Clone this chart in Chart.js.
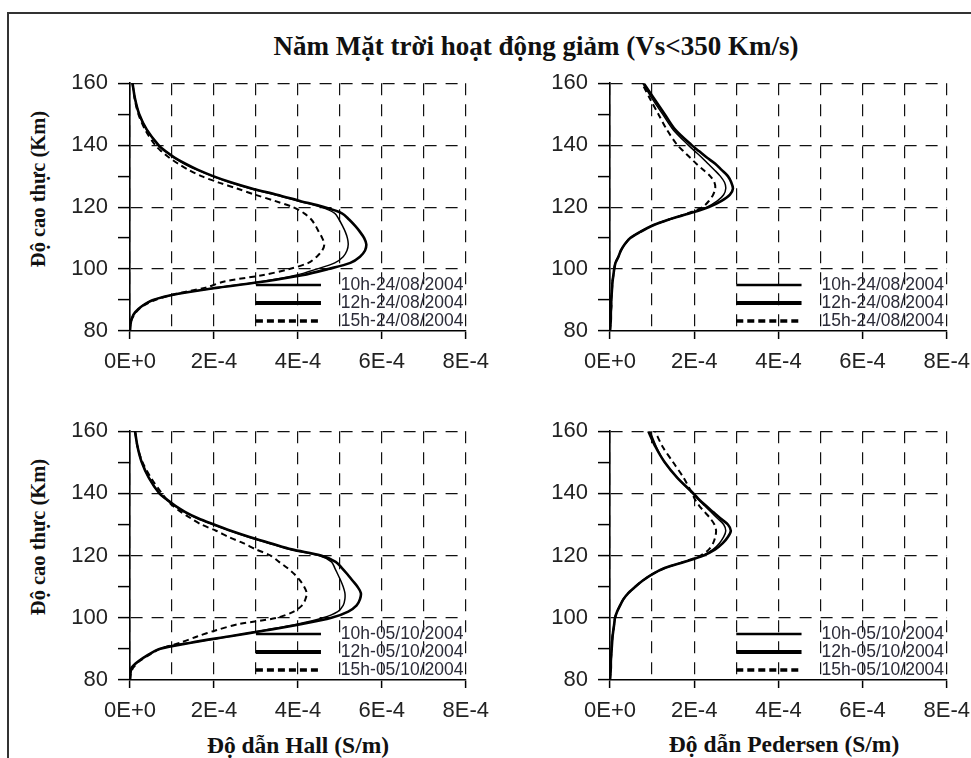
<!DOCTYPE html>
<html>
<head>
<meta charset="utf-8">
<script src="https://cdn.jsdelivr.net/npm/chart.js@4.4.1/dist/chart.umd.min.js"></script>
<style>
  body { margin: 0; background: #fff; }
  #page { position: relative; width: 971px; height: 758px; overflow: hidden; background: #fff; }
  #frame { position: absolute; left: 7px; top: 12px; width: 1000px; height: 800px;
           border-left: 2px solid #333; border-top: 2px solid #333; }
  canvas { position: absolute; }
  .serif { position: absolute; font-family: "Liberation Serif", "Times New Roman", serif;
           font-weight: bold; color: #111; white-space: nowrap; transform: translate(-50%, -50%); }
  #title { left: 536px; top: 46px; font-size: 28px; transform: translate(-50%, -50%) scaleX(0.965); }
  .ytitle { left: 38px; font-size: 20.5px; transform: translate(-50%, -50%) rotate(-90deg); }
  .xtitle { font-size: 23.5px; }
</style>
</head>
<body>
<div id="page">
  <div id="frame"></div>
  <div id="title" class="serif">Năm Mặt trời hoạt động giảm (Vs&lt;350 Km/s)</div>
  <div class="serif ytitle" style="top:189px">Độ cao thực (Km)</div>
  <div class="serif ytitle" style="top:537px">Độ cao thực (Km)</div>
  <div class="serif xtitle" style="left:298px; top:745px">Độ dẫn Hall (S/m)</div>
  <div class="serif xtitle" style="left:784px; top:744px">Độ dẫn Pedersen (S/m)</div>
  <canvas id="hallAug" width="489" height="330" style="left:10px; top:60px"></canvas>
  <canvas id="pedAug" width="490" height="330" style="left:490px; top:60px"></canvas>
  <canvas id="hallOct" width="489" height="330" style="left:10px; top:408px"></canvas>
  <canvas id="pedOct" width="490" height="330" style="left:490px; top:408px"></canvas>
</div>
<script>
// altitude (km) shared by every profile
const altitude = [80, 82, 84, 86, 88, 90, 92, 94, 96, 98, 100, 102, 104, 106, 108, 110, 112, 114, 116, 118,
                  120, 122, 124, 126, 128, 130, 132, 134, 136, 138, 140, 145, 150, 155, 160];

// conductivities in units of 1E-4 S/m
const hallAug10h = [0.0, 0.01, 0.04, 0.12, 0.28, 0.55, 1.15, 2.1, 3.15, 3.95, 4.45, 4.88, 5.08, 5.17, 5.2, 5.18, 5.13, 5.06, 4.98, 4.88,
                    4.55, 4.0, 3.45, 2.86, 2.37, 1.96, 1.6, 1.3, 1.05, 0.84, 0.67, 0.4, 0.22, 0.12, 0.06];
const hallAug12h = [0.0, 0.01, 0.04, 0.12, 0.28, 0.55, 1.15, 2.1, 3.2, 4.1, 4.72, 5.25, 5.48, 5.6, 5.63, 5.58, 5.48, 5.36, 5.22, 5.05,
                    4.62, 4.05, 3.5, 2.9, 2.4, 1.98, 1.62, 1.32, 1.06, 0.85, 0.68, 0.4, 0.22, 0.12, 0.06];
const hallAug15h = [0.0, 0.01, 0.05, 0.14, 0.3, 0.6, 1.1, 1.8, 2.25, 3.15, 3.8, 4.25, 4.45, 4.58, 4.63, 4.58, 4.5, 4.42, 4.32, 4.15,
                    3.88, 3.45, 2.98, 2.55, 2.1, 1.7, 1.4, 1.15, 0.93, 0.75, 0.6, 0.36, 0.2, 0.11, 0.06];

const pedAug10h = [0.0, 0.01, 0.02, 0.02, 0.03, 0.03, 0.04, 0.05, 0.06, 0.08, 0.1, 0.13, 0.2, 0.26, 0.35, 0.48, 0.72, 1.0, 1.4, 1.88,
                   2.3, 2.55, 2.7, 2.75, 2.72, 2.62, 2.48, 2.33, 2.18, 2.02, 1.86, 1.5, 1.25, 1.0, 0.78];
const pedAug12h = [0.0, 0.01, 0.02, 0.02, 0.03, 0.03, 0.04, 0.05, 0.06, 0.08, 0.1, 0.13, 0.2, 0.26, 0.35, 0.48, 0.72, 1.0, 1.4, 1.9,
                   2.35, 2.65, 2.85, 2.92, 2.88, 2.8, 2.65, 2.5, 2.3, 2.12, 1.94, 1.55, 1.3, 1.05, 0.8];
const pedAug15h = [0.0, 0.01, 0.02, 0.02, 0.03, 0.03, 0.04, 0.05, 0.06, 0.08, 0.1, 0.13, 0.2, 0.26, 0.35, 0.48, 0.72, 1.0, 1.4, 1.85,
                   2.2, 2.35, 2.45, 2.5, 2.48, 2.38, 2.22, 2.05, 1.9, 1.75, 1.6, 1.35, 1.15, 0.95, 0.76];

const hallOct10h = [0.0, 0.01, 0.04, 0.2, 0.42, 0.7, 1.45, 2.35, 3.2, 4.0, 4.6, 4.95, 5.08, 5.12, 5.12, 5.08, 5.02, 4.95, 4.88, 4.8,
                    4.5, 3.8, 3.3, 2.82, 2.38, 1.98, 1.6, 1.3, 1.07, 0.87, 0.7, 0.45, 0.28, 0.18, 0.12];
const hallOct12h = [0.0, 0.01, 0.04, 0.2, 0.42, 0.7, 1.45, 2.35, 3.25, 4.1, 4.8, 5.2, 5.4, 5.48, 5.5, 5.42, 5.3, 5.18, 5.05, 4.9,
                    4.55, 3.85, 3.35, 2.85, 2.4, 2.0, 1.62, 1.32, 1.08, 0.88, 0.7, 0.45, 0.28, 0.18, 0.12];
const hallOct15h = [0.0, 0.02, 0.08, 0.22, 0.45, 0.72, 1.2, 1.6, 2.05, 2.6, 3.5, 3.9, 4.1, 4.18, 4.21, 4.15, 4.05, 3.92, 3.75, 3.55,
                    3.35, 3.0, 2.7, 2.35, 2.05, 1.7, 1.45, 1.22, 1.02, 0.88, 0.76, 0.5, 0.3, 0.18, 0.12];

const pedOct10h = [0.0, 0.01, 0.02, 0.02, 0.03, 0.04, 0.05, 0.06, 0.08, 0.1, 0.12, 0.17, 0.24, 0.32, 0.44, 0.6, 0.78, 1.0, 1.3, 1.76,
                   2.2, 2.45, 2.6, 2.7, 2.75, 2.7, 2.55, 2.4, 2.25, 2.1, 1.96, 1.6, 1.3, 1.1, 0.95];
const pedOct12h = [0.0, 0.01, 0.02, 0.02, 0.03, 0.04, 0.05, 0.06, 0.08, 0.1, 0.12, 0.17, 0.24, 0.32, 0.44, 0.6, 0.78, 1.0, 1.3, 1.78,
                   2.22, 2.5, 2.68, 2.8, 2.87, 2.8, 2.62, 2.45, 2.28, 2.12, 1.98, 1.6, 1.3, 1.08, 0.91];
const pedOct15h = [0.0, 0.01, 0.02, 0.02, 0.03, 0.04, 0.05, 0.06, 0.08, 0.1, 0.12, 0.17, 0.24, 0.32, 0.44, 0.6, 0.78, 1.0, 1.3, 1.75,
                   2.15, 2.35, 2.45, 2.5, 2.52, 2.48, 2.38, 2.25, 2.12, 2.02, 1.95, 1.75, 1.5, 1.25, 1.07];

const augLabels = ['10h-24/08/2004', '12h-24/08/2004', '15h-24/08/2004'];
const octLabels = ['10h-05/10/2004', '12h-05/10/2004', '15h-05/10/2004'];
const xTickLabels = ['0E+0', '2E-4', '4E-4', '6E-4', '8E-4'];
const yTickLabels = ['80', '100', '120', '140', '160'];

// 10h thin solid, 12h thick solid, 15h dashed
const lineStyles = [
    { width: 1.5, dash: [] },
    { width: 2.6, dash: [] },
    { width: 2, dash: [6, 4] }
];
const legendStyles = [
    { width: 2.5, dash: [] },
    { width: 4, dash: [] },
    { width: 3.5, dash: [7, 4] }
];

const tickFont = { family: '"Liberation Sans", Arial, sans-serif', size: 22 };

// legend drawn inside the plot, lower right, like the original
const insideLegend = {
    id: 'insideLegend',
    afterDatasetsDraw(chart) {
        const { ctx, chartArea, scales } = chart;
        const x0 = scales.x.getPixelForValue(3);
        const x1 = scales.x.getPixelForValue(4.55);
        const tx = scales.x.getPixelForValue(5) + 1;
        const rows = [46, 28, 10];
        ctx.save();
        chart.data.datasets.forEach(function (ds, i) {
            const y = chartArea.bottom - rows[i];
            ctx.beginPath();
            ctx.setLineDash(legendStyles[i].dash);
            ctx.lineWidth = legendStyles[i].width;
            ctx.strokeStyle = '#000';
            ctx.moveTo(x0, y);
            ctx.lineTo(x1, y);
            ctx.stroke();
            ctx.setLineDash([]);
            ctx.font = '17.5px "Liberation Sans", Arial, sans-serif';
            ctx.fillStyle = '#2b2b38';
            ctx.textBaseline = 'middle';
            ctx.fillText(ds.label, tx, y);
        });
        ctx.restore();
    }
};

function buildPanel(canvasId, seriesList, labels, xAxisHeight) {
    const datasets = seriesList.map(function (vals, i) {
        return {
            label: labels[i],
            data: altitude.map(function (h, k) { return { x: vals[k], y: h }; }),
            showLine: true,
            pointRadius: 0,
            borderColor: '#000',
            borderWidth: lineStyles[i].width,
            borderDash: lineStyles[i].dash,
            fill: false,
            tension: 0.3
        };
    });

    new Chart(document.getElementById(canvasId), {
        type: 'scatter',
        data: { datasets: datasets },
        options: {
            responsive: false,
            animation: false,
            devicePixelRatio: 1,
            layout: { padding: { left: 0, top: 22, right: 0, bottom: 0 } },
            plugins: { legend: { display: false }, tooltip: { enabled: false } },
            scales: {
                x: {
                    type: 'linear', min: 0, max: 8,
                    afterFit: function (s) { s.height = xAxisHeight; },
                    ticks: {
                        stepSize: 1, autoSkip: false, maxRotation: 0, padding: 10,
                        color: '#222', font: tickFont,
                        callback: function (v) { return v % 2 === 0 ? xTickLabels[v / 2] : ''; }
                    },
                    grid: {
                        color: '#111', lineWidth: 1.2, tickLength: 8, tickWidth: 1.5,
                        tickColor: function (c) { return c.tick && c.tick.value % 2 === 0 ? '#000' : 'rgba(0,0,0,0)'; }
                    },
                    border: { display: true, color: '#000', width: 1.6, dash: [12, 9] }
                },
                y: {
                    type: 'linear', min: 80, max: 160,
                    afterFit: function (s) { s.width = 120; },
                    ticks: {
                        stepSize: 10, autoSkip: false, padding: 10,
                        color: '#222', font: tickFont,
                        callback: function (v) { return v % 20 === 0 ? yTickLabels[(v - 80) / 20] : ''; }
                    },
                    grid: {
                        lineWidth: 1.2, tickLength: 12, tickWidth: 1.5, tickColor: '#000',
                        color: function (c) {
                            return c.tick && c.tick.value % 20 === 0 && c.tick.value !== 80 ? '#111' : 'rgba(0,0,0,0)';
                        }
                    },
                    border: { display: true, color: '#000', width: 1.6, dash: [12, 9] }
                }
            }
        },
        plugins: [insideLegend]
    });
}

buildPanel('hallAug', [hallAug10h, hallAug12h, hallAug15h], augLabels, 59);
buildPanel('pedAug', [pedAug10h, pedAug12h, pedAug15h], augLabels, 59);
buildPanel('hallOct', [hallOct10h, hallOct12h, hallOct15h], octLabels, 58);
buildPanel('pedOct', [pedOct10h, pedOct12h, pedOct15h], octLabels, 58);
</script>
</body>
</html>
